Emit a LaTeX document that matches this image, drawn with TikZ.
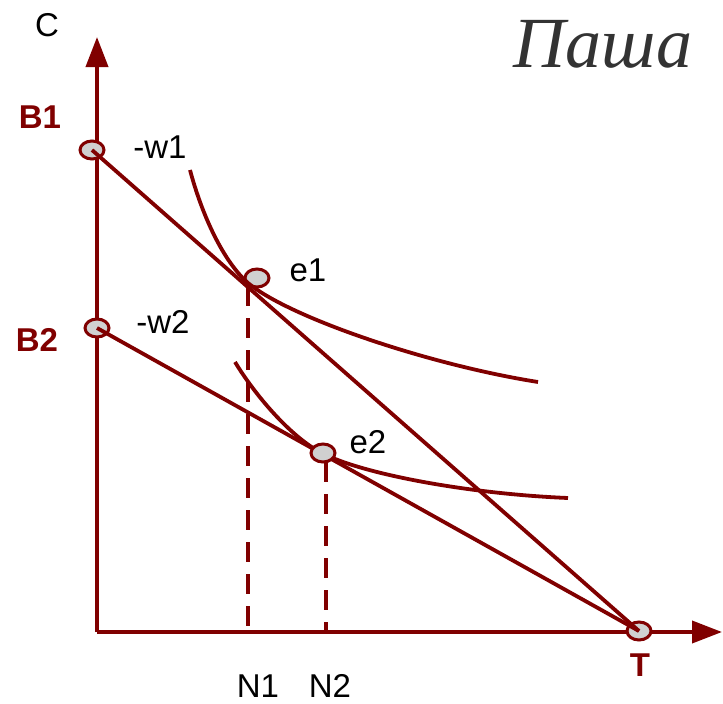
\documentclass[tikz,border=0pt]{standalone}
\usepackage{fontspec}
\setmainfont{Liberation Sans}
\newfontfamily\nameserif{Liberation Serif}
\usepackage{tikz}
\usetikzlibrary{arrows.meta,shapes.geometric}
\definecolor{axisred}{RGB}{128,0,0}
\definecolor{ptgray}{RGB}{208,208,208}
\definecolor{namegray}{RGB}{51,51,51}

\begin{document}
\begin{tikzpicture}[x=1pt,y=-1pt,>={Triangle[length=30pt,width=22pt]},
  ln/.style={draw=axisred,line width=3.8pt},
  pt/.style={ellipse,draw=axisred,fill=ptgray,line width=3pt,minimum width=24pt,minimum height=18pt,inner sep=0pt},
  lbl/.style={font=\fontsize{33}{38}\selectfont,text=black,inner sep=0pt},
  rlbl/.style={font=\fontsize{33}{38}\selectfont\bfseries,text=axisred,inner sep=0pt}]
\useasboundingbox (0,0) rectangle (723,704);
% axes
\coordinate (o) at (97,632);
\coordinate (ytop) at (97,37);
\coordinate (xend) at (722,632);
\draw[ln,->,color=axisred] (o)--(ytop);
\draw[ln,->,color=axisred] (o)--(xend);
% points
\node[pt] (b1) at (92,150) {};
\node[pt] (b2) at (97,328) {};
\node[pt] (e1) at (257,278) {};
\node[pt] (t) at (639,631) {};
% budget lines
\draw[ln] (b1.center)--(t.center);
\draw[ln] (b2.center)--(t.center);
% indifference curves
\draw[ln] (190,170) .. controls (202,215) and (223,261) .. (248,283)
  .. controls (290,318) and (430,365) .. (538,382);
\draw[ln] (235,362) .. controls (255,395) and (290,436) .. (320,452)
  .. controls (360,474) and (470,494) .. (568,498);
% projections
\coordinate (n1) at (248,632);
\coordinate (n2) at (326,632);
\draw[ln,dash pattern=on 20pt off 12pt] (248,286)--(n1);
\draw[ln,dash pattern=on 20pt off 12pt] (326,462)--(n2);
\node[pt] (e2) at (323,453) {};
% labels
\node[lbl] (c) at (47,25) {C};
\node[rlbl] (lb1) at (40,117) {B1};
\node[rlbl] (lb2) at (37,340) {B2};
\node[rlbl] (lt) at (640,665) {T};
\node[lbl] (lw1) at (160,147) {-w1};
\node[lbl] (lw2) at (163,322) {-w2};
\node[lbl] (le1) at (308,270) {e1};
\node[lbl] (le2) at (368,442) {e2};
\node[lbl] (ln1) at (258,686) {N1};
\node[lbl] (ln2) at (330,686) {N2};
\node[font=\nameserif\itshape\fontsize{72}{76}\selectfont,text=namegray,inner sep=0pt] (name) at (603,44) {Паша};
\end{tikzpicture}
\end{document}
